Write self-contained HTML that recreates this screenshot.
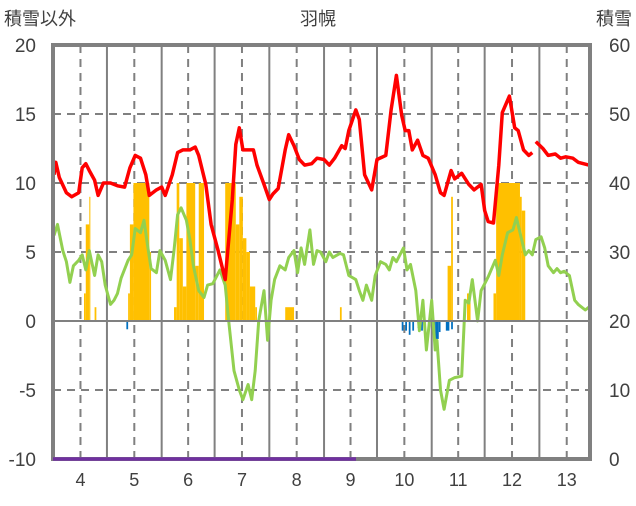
<!DOCTYPE html>
<html><head><meta charset="utf-8"><style>
body{margin:0;background:#fff;}
svg text{font-family:"Liberation Sans","Noto Sans CJK JP",sans-serif;fill:#404040;}
</style></head><body>
<svg id="chart" width="636" height="501" xmlns="http://www.w3.org/2000/svg">
<text x="4" y="25" font-size="18">積雪以外</text>
<text x="318" y="25" font-size="18" text-anchor="middle">羽幌</text>
<text x="632" y="25" font-size="18" text-anchor="end">積雪</text>
<g id="grid"></g><g id="bars"></g><g id="lines"></g><g id="axes"></g>
</svg>
<script>
const leftTicks=[20,15,10,5,0,-5,-10];
const rightTicks=[60,50,40,30,20,10,0];
const monthLabels=["4","5","6","7","8","9","10","11","12","13"];
const monthStarts=[0,30,61,91,122,153,183,214,244,275,306];
const redDays=[0,1,3,7,10,14,16,18,20,23,25,28,32,36,40,43,46,49,52,54,58,61,63,67,70,73,77,80,82,86,89,93,97,101,103,105,107,110,113,115,119,122,124,127,131,133,136,139,142,146,149,153,156,159,163,165,167,171,173,176,180,183,188,191,194,197,199,201,203,206,209,212,216,219,221,225,227,231,235,238,242,244,246,249,252,254,258,261,263,266,269,271,272,273,277,280,284,287,290,294,297,303];
const redVals=[10.6,11.5,10.4,9.3,9.0,9.3,11.1,11.4,10.9,10.2,9.1,10,10,9.8,9.7,11.1,12,11.8,10.6,9.1,9.5,9.7,9.1,10.6,12.2,12.4,12.4,12.6,12,9.9,7,5.1,3,8.8,12.8,14,12.4,12.4,12.4,11.3,9.9,8.8,9.2,9.6,12.4,13.5,12.7,11.7,11.3,11.4,11.8,11.7,11.3,11.8,12.7,12.5,13.8,15.3,14.6,10.6,9.5,11.7,12,15.3,17.8,14.9,13.8,13.8,12.4,13.1,12,11.8,10.6,9.3,9.1,10.9,10.3,10.7,9.9,9.5,9.9,8,7.2,7.1,11.3,15.1,16.3,14,13.8,12.4,12,12.2,null,13,12.5,12,12.1,11.8,11.9,11.8,11.5,11.3];
const greenDays=[0,2,5,7,9,11,14,16,18,20,23,25,27,29,32,34,36,38,42,44,46,49,51,53,55,58,60,63,66,68,70,72,75,77,79,82,85,87,90,94,97,99,102,105,107,110,112,114,116,119,121,123,125,128,131,133,136,138,140,142,145,147,149,151,154,156,158,162,164,167,171,173,175,177,180,182,185,188,190,192,194,198,200,202,205,207,209,211,214,216,217,219,221,224,227,231,233,235,237,240,242,244,246,250,252,254,257,260,262,264,267,269,271,273,276,278,280,283,285,287,289,292,295,297,301,303];
const greenVals=[6.2,7,5.1,4.3,2.8,4,4.4,4.8,3.7,5.1,3.3,4.8,4.3,2.6,1.2,1.5,2,3.1,4.4,4.8,6.7,6.4,7.3,5.5,3.8,3.5,5.1,4.4,3,5.1,7.7,8.2,7.3,5.9,4,2.2,1.7,2.6,2.7,3.7,2.6,0,-3.6,-5,-5.7,-4.6,-5.7,-3.6,0,2.2,-1.4,1.5,3,4,3.7,4.6,5.1,3.5,5.3,4.1,6.6,4.1,5.1,5,4.3,5,4.6,4.9,4.8,3.3,3,2.2,1.5,2.6,1.5,3.3,4.3,4.1,3.7,4.6,4.3,5.3,3.7,4.1,2.2,-0.7,1.5,-2.1,1.5,-2.1,-1.4,-5,-6.4,-4.3,-4.1,-4,1.5,1.3,3,0,2.2,2.7,3.2,4.4,3.3,4.8,6.4,6.6,7.5,6.4,4.8,5.1,4.8,5.9,6.1,5.3,4,3.5,3.8,3.5,3.6,3.3,1.5,1.2,0.8,1];
const snowStart=[17,18,20,23,42,43,45,54,68,69.5,71,73,75,80,82,97,103,105,107,109,111,114,131,162,223,225,234,249,250.5,264,265];
const snowEnd=[18,20,20.6,24,43,45,54,55,69.5,71,73,75,80,82,85,103,105,107,109,111,114,115,136,163,225,226,236,250.5,264,265,267];
const snowVals=[24,34,38,22,24,34,40,30,22,40,32,25,40,28,40,40,34,38,32,30,25,22,22,22,28,38,24,24,40,38,36];
const meltStart=[41,197,199,201,203,206,208,215,216,218,222,225];
const meltEnd=[42,198,200,202,204,207,209,216,218,219,224,226];
const meltVals=[18.8,18.6,18.6,18,18.6,19,18.6,17.2,17.4,18.4,18.6,18.8];

const X0=54,PXD=1.765,L=53,R=590,T=45,B=459;
const x=d=>X0+d*PXD;
const yl=v=>321-(v)*13.8;
const yr=v=>B-v*6.9;
const NS="http://www.w3.org/2000/svg";
function mk(tag,parent,attrs){const e=document.createElementNS(NS,tag);for(const k in attrs)e.setAttribute(k,attrs[k]);parent.appendChild(e);return e;}
const grid=document.getElementById('grid'),bars=document.getElementById('bars'),lines=document.getElementById('lines'),axes=document.getElementById('axes');
leftTicks.forEach(v=>{
  if(v===0||v===20||v===-10)return;
  const l=mk('line',grid,{x1:L,x2:R,y1:yl(v),y2:yl(v),stroke:'#808080','stroke-width':2,'stroke-dasharray':'8,6'});
  
  
});
monthStarts.forEach((d,i)=>{
  if(i>0&&x(d)<R){const l=mk('line',grid,{x1:x(d),x2:x(d),y1:T,y2:B,stroke:'#808080','stroke-width':2});
  
  }
  if(i<monthLabels.length){const c=(d+monthStarts[i+1])/2;
    const l2=mk('line',grid,{x1:x(c),x2:x(c),y1:T,y2:B,stroke:'#808080','stroke-width':2,'stroke-dasharray':'8,6'});
    
    
    const t=mk('text',axes,{x:x(c),y:486,'font-size':18,'text-anchor':'middle'});t.textContent=monthLabels[i];
    
    }
});
snowVals.forEach((v,i)=>{
  const r=mk('rect',bars,{x:x(snowStart[i]),y:yr(v),width:x(snowEnd[i])-x(snowStart[i]),height:yr(20)-yr(v),fill:'#FFC000'});
  
  
});
meltVals.forEach((v,i)=>{
  const r=mk('rect',bars,{x:x(meltStart[i]),y:yr(20),width:x(meltEnd[i])-x(meltStart[i]),height:yr(v)-yr(20),fill:'#0070C0'});
  
  
});
function path(days,vals,sc){let d='',pen=false;days.forEach((dd,i)=>{const v=vals[i];if(v===null){pen=false;return;}d+=(pen?'L':'M')+x(dd).toFixed(1)+','+sc(v).toFixed(1);pen=true;});return d;}
const g=mk('path',lines,{d:path(greenDays,greenVals,yl),fill:'none',stroke:'#92D050','stroke-width':3,'stroke-linejoin':'round'});


const rl=mk('path',lines,{d:path(redDays,redVals,yl),fill:'none',stroke:'#FF0000','stroke-width':3.5,'stroke-linejoin':'round'});


const z=mk('line',axes,{x1:L,x2:R,y1:321,y2:321,stroke:'#808080','stroke-width':2});


const f=mk('rect',axes,{x:L,y:T,width:R-L,height:B-T,fill:'none',stroke:'#808080','stroke-width':4});


const p=mk('line',axes,{x1:L,x2:356,y1:B,y2:B,stroke:'#7030A0','stroke-width':3.5});


leftTicks.forEach(v=>{const t=mk('text',axes,{x:36,y:yl(v)+7,'font-size':19,'text-anchor':'end'});t.textContent=v;
  
  });
rightTicks.forEach(v=>{const t=mk('text',axes,{x:609,y:yr(v)+7,'font-size':19});t.textContent=v;
  
  });
</script>
</body></html>
